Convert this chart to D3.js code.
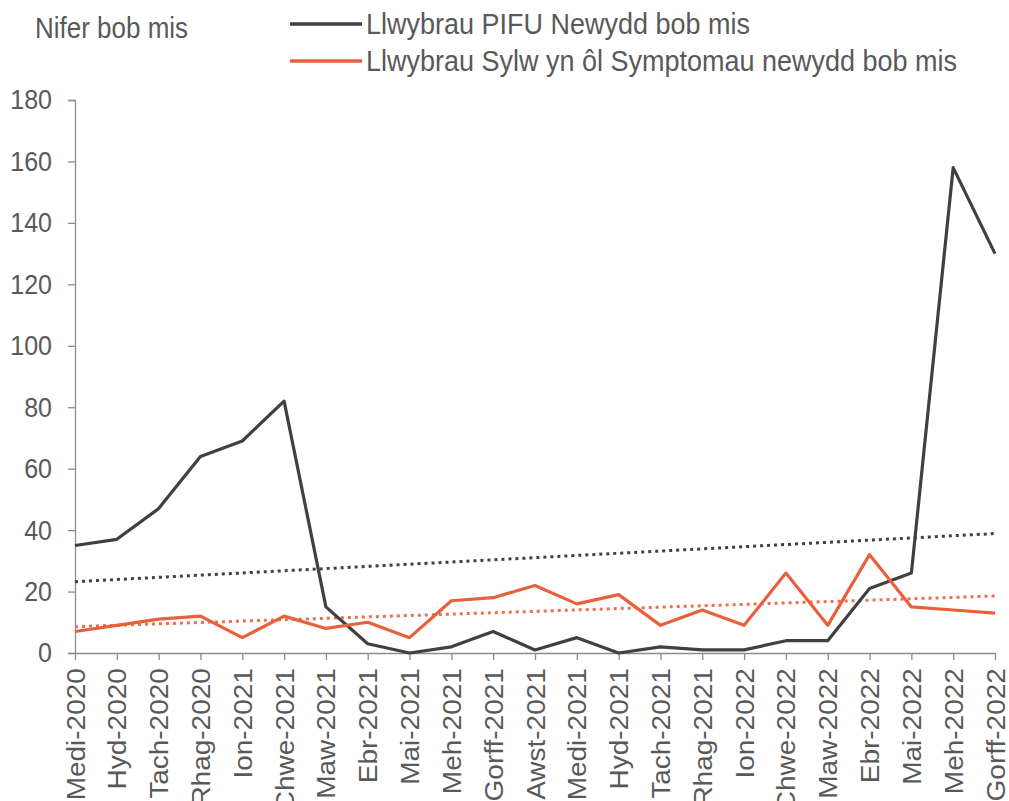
<!DOCTYPE html>
<html>
<head>
<meta charset="utf-8">
<script src="https://cdn.jsdelivr.net/npm/d3@7"></script>
<style>
  body { margin: 0; background: #fff; }
  svg text { font-family: "Liberation Sans", Arial, sans-serif; fill: #595959; }
</style>
</head>
<body>
<svg id="chart"></svg>
<script>
  const months = [
    "Medi-2020", "Hyd-2020", "Tach-2020", "Rhag-2020", "Ion-2021", "Chwe-2021",
    "Maw-2021", "Ebr-2021", "Mai-2021", "Meh-2021", "Gorff-2021", "Awst-2021",
    "Medi-2021", "Hyd-2021", "Tach-2021", "Rhag-2021", "Ion-2022", "Chwe-2022",
    "Maw-2022", "Ebr-2022", "Mai-2022", "Meh-2022", "Gorff-2022",
  ];
  const pifu = [35, 37, 47, 64, 69, 82, 15, 3, 0, 2, 7, 1, 5, 0, 2, 1, 1, 4, 4, 21, 26, 158, 130];
  const symptom = [7, 9, 11, 12, 5, 12, 8, 10, 5, 17, 18, 22, 16, 19, 9, 14, 9, 26, 9, 32, 15, 14, 13];
  const yTicks = [0, 20, 40, 60, 80, 100, 120, 140, 160, 180];

  const seriesNames = [
    "Llwybrau PIFU Newydd bob mis",
    "Llwybrau Sylw yn ôl Symptomau newydd bob mis",
  ];

  const COL = { pifu: "#404040", symptom: "#e8603c", trendSym: "#e8724f", axis: "#8c8c8c" };
  const STRETCH = 1.12; // glyphs in the original are a bit taller than wide

  const W = 1009, H = 801;
  const svg = d3.select("#chart").attr("width", W).attr("height", H);

  const x = d3.scalePoint().domain(months).range([75, 995]);
  const y = d3.scaleLinear().domain([0, 180]).range([653, 100]);

  // linear least-squares trendline (Excel style)
  function trend(vals) {
    const n = vals.length;
    const mx = (n - 1) / 2;
    const my = d3.mean(vals);
    let sxy = 0, sxx = 0;
    vals.forEach((v, i) => { sxy += (i - mx) * (v - my); sxx += (i - mx) * (i - mx); });
    const b = sxy / sxx, a = my - b * mx;
    return [[0, a], [n - 1, a + b * (n - 1)]];
  }

  const lineGen = d3.line().x((d, i) => x(months[i])).y((d) => y(d));
  const trendGen = d3.line().x((d) => x(months[d[0]])).y((d) => y(d[1]));

  // axes
  const yAxis = d3.axisLeft(y).tickValues(yTicks).tickSize(7).tickPadding(16);
  const gy = svg.append("g").attr("transform", "translate(75,0)").call(yAxis);
  gy.select(".domain").attr("stroke", COL.axis).attr("stroke-width", 1.3);
  gy.selectAll(".tick line").attr("stroke", COL.axis).attr("stroke-width", 1.3);
  gy.selectAll(".tick text").attr("font-size", 25).attr("fill", "#595959")
    .attr("transform", `scale(1,${STRETCH})`);

  const xAxis = d3.axisBottom(x).tickSize(7).tickSizeOuter(0);
  const gx = svg.append("g").attr("transform", "translate(0,653)").call(xAxis);
  gx.select(".domain").attr("stroke", COL.axis).attr("stroke-width", 1.3);
  gx.selectAll(".tick line").attr("stroke", COL.axis).attr("stroke-width", 1.3);
  gx.selectAll(".tick text")
    .attr("font-size", 25).attr("fill", "#595959")
    .attr("text-anchor", "end")
    .attr("transform", `scale(1,${STRETCH}) rotate(-90)`)
    .attr("x", -13.5).attr("y", 0).attr("dy", "0.36em");

  // trendlines
  svg.append("path").attr("d", trendGen(trend(pifu)))
    .attr("fill", "none").attr("stroke", COL.pifu).attr("stroke-width", 3)
    .attr("stroke-dasharray", "3,4");
  svg.append("path").attr("d", trendGen(trend(symptom)))
    .attr("fill", "none").attr("stroke", COL.trendSym).attr("stroke-width", 3)
    .attr("stroke-dasharray", "3,4");

  // series lines
  svg.append("path").attr("d", lineGen(pifu))
    .attr("fill", "none").attr("stroke", COL.pifu).attr("stroke-width", 3.2)
    .attr("stroke-linejoin", "round");
  svg.append("path").attr("d", lineGen(symptom))
    .attr("fill", "none").attr("stroke", COL.symptom).attr("stroke-width", 3.2)
    .attr("stroke-linejoin", "round");

  // title + legend
  svg.append("text").attr("transform", `translate(35,38) scale(1,${STRETCH})`)
    .attr("font-size", 26).text("Nifer bob mis");

  const lg = svg.append("g");
  [COL.pifu, COL.symptom].forEach((c, i) => {
    const ly = 24 + i * 37;
    lg.append("line").attr("x1", 290).attr("x2", 362).attr("y1", ly).attr("y2", ly)
      .attr("stroke", c).attr("stroke-width", 3.5);
    lg.append("text").attr("transform", `translate(366,${ly + 10}) scale(1,${STRETCH})`)
      .attr("font-size", 27).text(seriesNames[i]);
  });
</script>
</body>
</html>
